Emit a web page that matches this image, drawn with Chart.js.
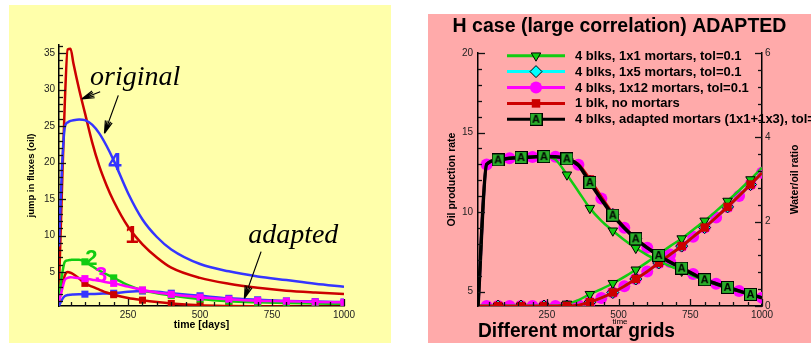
<!DOCTYPE html>
<html>
<head>
<meta charset="utf-8">
<script src="https://cdn.jsdelivr.net/npm/chart.js@4.4.1/dist/chart.umd.min.js"></script>
<style>
  html, body { margin: 0; padding: 0; background: #fff; width: 811px; height: 347px; overflow: hidden; }
  #left { position: absolute; left: 9px; top: 5px; background: #ffffaa; }
  #right { position: absolute; left: 428px; top: 14px; background: #ffaaaa; }
</style>
</head>
<body>
<canvas id="left" width="382" height="338"></canvas>
<canvas id="right" width="383" height="329"></canvas>
<script>
// left panel: jump in fluxes (oil)
var timeL = [10, 20, 30, 40, 50, 60, 80, 100, 125, 150, 175, 200, 250, 300, 350, 400, 500, 600, 700, 800, 900, 1000];
var orig1 = [3, 16, 28, 35.5, 35.6, 33.6, 30.0, 26.8, 22.8, 19.5, 16.9, 14.7, 11.2, 8.8, 7.0, 5.6, 4.2, 3.4, 2.85, 2.45, 2.2, 2.0];
var orig4 = [8.5, 19, 24.8, 25.5, 25.7, 25.8, 25.9, 25.8, 25.2, 24.0, 22.3, 20.3, 15.8, 12.2, 9.8, 8.1, 6.1, 5.1, 4.4, 3.9, 3.4, 3.0];
var adapt1 = [1.0, 2.8, 4.5, 5.0, 4.9, 4.7, 4.1, 3.45, 3.0, 2.6, 2.2, 1.9, 1.45, 1.15, 0.9, 0.7, 0.45, 0.35, 0.3, 0.27, 0.25, 0.22];
var adapt2 = [1.5, 4.5, 6.4, 6.6, 6.65, 6.7, 6.7, 6.4, 5.8, 5.2, 4.7, 4.2, 3.2, 2.5, 2.1, 1.8, 1.3, 1.0, 0.85, 0.75, 0.7, 0.65];
var adapt3 = [1.0, 2.5, 3.9, 4.2, 4.3, 4.25, 4.15, 4.1, 3.95, 3.8, 3.6, 3.45, 3.0, 2.55, 2.2, 1.95, 1.55, 1.28, 1.08, 1.0, 0.9, 0.85];
var adapt4 = [0.4, 1.2, 1.7, 1.85, 1.9, 1.92, 1.95, 1.97, 2.0, 2.03, 2.07, 2.1, 2.3, 2.4, 2.3, 2.1, 1.75, 1.4, 1.2, 1.05, 0.95, 0.9];
var xTicksL = [250, 500, 750, 1000];
var yTicksL = [5, 10, 15, 20, 25, 30, 35];

// right panel: oil production rate / water-oil ratio
var timeR = [10, 40, 80, 120, 160, 200, 240, 280, 320, 360, 400, 440, 480, 520, 560, 600, 640, 680, 720, 760, 800, 840, 880, 920, 960, 1000];
var oilGreen = [4.1, 13.0, 13.3, 13.4, 13.45, 13.48, 13.5, 13.3, 12.35, 11.3, 10.25, 9.45, 8.83, 8.25, 7.74, 7.3, 6.95, 6.6, 6.3, 6.0, 5.7, 5.45, 5.2, 5.0, 4.8, 4.6];
var oilCyan = [4.1, 13.0, 13.28, 13.38, 13.43, 13.47, 13.49, 13.48, 13.36, 12.97, 11.95, 10.85, 9.85, 9.02, 8.33, 7.76, 7.29, 6.86, 6.49, 6.11, 5.76, 5.5, 5.27, 5.05, 4.83, 4.62];
var oilMag = [4.1, 13.0, 13.28, 13.38, 13.43, 13.47, 13.49, 13.48, 13.36, 12.97, 11.95, 10.85, 9.85, 9.02, 8.33, 7.76, 7.29, 6.86, 6.49, 6.11, 5.76, 5.5, 5.27, 5.05, 4.83, 4.62];
var oilRed = [4.1, 13.0, 13.28, 13.38, 13.43, 13.47, 13.49, 13.48, 13.38, 13.0, 12.05, 10.95, 9.9, 9.05, 8.35, 7.78, 7.3, 6.87, 6.5, 6.12, 5.77, 5.5, 5.27, 5.05, 4.83, 4.62];
var oilAdapt = [4.1, 13.0, 13.28, 13.38, 13.43, 13.47, 13.49, 13.48, 13.35, 12.95, 11.86, 10.8, 9.81, 9.0, 8.32, 7.75, 7.28, 6.85, 6.48, 6.1, 5.75, 5.5, 5.27, 5.05, 4.83, 4.62];
var worGreen = [0, 0, 0, 0, 0, 0, 0, 0, 0.05, 0.14, 0.28, 0.4, 0.54, 0.69, 0.86, 1.04, 1.23, 1.42, 1.6, 1.81, 2.02, 2.25, 2.49, 2.74, 3.0, 3.28];
var worCyan = [0, 0, 0, 0, 0, 0, 0, 0, 0, 0.02, 0.09, 0.19, 0.32, 0.47, 0.64, 0.82, 1.02, 1.22, 1.42, 1.64, 1.86, 2.1, 2.35, 2.61, 2.88, 3.16];
var worMag = [0, 0, 0, 0, 0, 0, 0, 0, 0, 0.02, 0.09, 0.19, 0.32, 0.47, 0.64, 0.82, 1.02, 1.22, 1.42, 1.64, 1.86, 2.1, 2.35, 2.61, 2.88, 3.16];
var worRed = [0, 0, 0, 0, 0, 0, 0, 0, 0, 0.02, 0.09, 0.19, 0.32, 0.47, 0.64, 0.82, 1.02, 1.22, 1.42, 1.64, 1.86, 2.1, 2.35, 2.61, 2.88, 3.16];
var xTicksR = [250, 500, 750, 1000];
var yTicksR = [5, 10, 15, 20];
var y1TicksR = [0, 2, 4, 6];
var legendLabels = [
  '4 blks, 1x1 mortars, tol=0.1',
  '4 blks, 1x5 mortars, tol=0.1',
  '4 blks, 1x12 mortars, tol=0.1',
  '1 blk, no mortars',
  '4 blks, adapted mortars (1x1+1x3), tol=0.1'
];
var titleR = 'H case (large correlation) ADAPTED';

var FONT = "'Liberation Sans', Arial, sans-serif";
Chart.defaults.font.family = FONT;
Chart.defaults.color = '#000';

function pts(xs, ys) {
  return xs.map(function (t, i) { return {x: t, y: ys[i]}; });
}
function markEvery(step, r) {
  return function (c) { return c.raw && c.raw.x % step === 0 ? r : 0; };
}
function fixTicks(list) {
  return function (s) { s.ticks = list.map(function (v) { return {value: v}; }); };
}

// green box with an "A" in it
function makeA() {
  var c = document.createElement('canvas');
  c.width = 13; c.height = 13;
  var g = c.getContext('2d');
  g.fillStyle = '#2aae2a';
  g.fillRect(0.5, 0.5, 12, 12);
  g.strokeStyle = '#000';
  g.lineWidth = 1;
  g.strokeRect(0.5, 0.5, 12, 12);
  g.fillStyle = '#000';
  g.font = 'bold 11px ' + FONT;
  g.textAlign = 'center';
  g.textBaseline = 'middle';
  g.fillText('A', 6.5, 7);
  return c;
}
var markA = makeA();

// tick marks pointing into the plot, major and minor
function inTicks(cfg) {
  return {
    id: 'inTicks',
    afterDraw: function (chart) {
      var ctx = chart.ctx;
      ctx.save();
      ctx.strokeStyle = '#111';
      ctx.lineWidth = 1.3;
      Object.keys(cfg).forEach(function (id) {
        var s = chart.scales[id], o = cfg[id];
        if (!s) return;
        var pos = s.options.position;
        var k0 = Math.ceil(s.min / o.minor - 1e-6), k1 = Math.floor(s.max / o.minor + 1e-6);
        for (var k = k0; k <= k1; k++) {
          var v = k * o.minor, r = v / o.major;
          var len = Math.abs(r - Math.round(r)) < 1e-6 ? 7 : 4;
          var p = Math.round(s.getPixelForValue(v)) + 0.5;
          ctx.beginPath();
          if (pos === 'left') { ctx.moveTo(s.right, p); ctx.lineTo(s.right + len, p); }
          else if (pos === 'right') { ctx.moveTo(s.left, p); ctx.lineTo(s.left - len, p); }
          else { ctx.moveTo(p, s.top); ctx.lineTo(p, s.top - len); }
          ctx.stroke();
        }
      });
      ctx.restore();
    }
  };
}

function axisOpts(extra) {
  var o = {
    type: 'linear',
    grid: {display: false, drawTicks: false},
    border: {display: true, color: '#000', width: 1.5},
    ticks: {font: {size: 10}, color: '#222', padding: 3, callback: function (v) { return String(v); }}
  };
  for (var k in extra) o[k] = extra[k];
  return o;
}

// ---------- left chart ----------
var RED = '#cc0000', BLUE = '#3535ff', GREEN = '#11cc11', MAG = '#ff00ff';

function leftLine(data, color, order, marker) {
  return {
    data: pts(timeL, data), borderColor: color, borderWidth: 2.5,
    cubicInterpolationMode: 'monotone', order: order,
    pointStyle: 'rect', pointRadius: marker ? markEvery(100, 5) : 0,
    pointBackgroundColor: color, pointBorderWidth: 0
  };
}

// notes: positions in data units
var notesL = {
  id: 'notesL',
  afterDatasetsDraw: function (chart) {
    var ctx = chart.ctx, sx = chart.scales.x, sy = chart.scales.y;
    function X(v) { return sx.getPixelForValue(v); }
    function Y(v) { return sy.getPixelForValue(v); }
    function arrow(x1, y1, x2, y2) {
      var a = Math.atan2(Y(y2) - Y(y1), X(x2) - X(x1));
      ctx.beginPath();
      ctx.moveTo(X(x1), Y(y1));
      ctx.lineTo(X(x2), Y(y2));
      [0.28, 0.14, -0.14, -0.28].forEach(function (d) {
        ctx.moveTo(X(x2), Y(y2));
        ctx.lineTo(X(x2) - 13 * Math.cos(a + d), Y(y2) - 13 * Math.sin(a + d));
      });
      ctx.stroke();
    }
    ctx.save();
    ctx.fillStyle = '#000';
    ctx.strokeStyle = '#000';
    ctx.lineWidth = 1.2;
    ctx.font = "italic 28px 'Liberation Serif', serif";
    ctx.fillText('original', X(118), Y(30.6));
    ctx.fillText('adapted', X(667), Y(9.0));
    arrow(153, 29.7, 89, 28.7);
    arrow(216, 29.2, 168, 24.0);
    arrow(712, 7.8, 654, 1.4);
    ctx.font = 'bold 24px ' + FONT;
    ctx.fillStyle = RED; ctx.fillText('1', X(240), Y(9.0));
    ctx.fillStyle = BLUE; ctx.fillText('4', X(181), Y(19.0));
    ctx.font = 'bold 22px ' + FONT;
    ctx.fillStyle = GREEN; ctx.fillText('2', X(101), Y(6.0));
    ctx.fillStyle = MAG; ctx.fillText('3', X(135), Y(3.6));
    ctx.restore();
  }
};

new Chart(document.getElementById('left'), {
  type: 'line',
  data: {
    datasets: [
      leftLine(orig1, RED, 5, false),
      leftLine(orig4, BLUE, 4, false),
      leftLine(adapt4, BLUE, 3, true),
      leftLine(adapt1, RED, 2, true),
      leftLine(adapt2, GREEN, 1, true),
      leftLine(adapt3, MAG, 0, true)
    ]
  },
  options: {
    responsive: false, animation: false, devicePixelRatio: 1,
    layout: {padding: {left: 0, right: 47, top: 40, bottom: 4}},
    plugins: {legend: {display: false}, tooltip: {enabled: false}},
    scales: {
      x: axisOpts({
        min: 10, max: 1000, afterBuildTicks: fixTicks(xTicksL),
        afterFit: function (s) { s.height = 33; },
        title: {display: true, text: 'time [days]', font: {size: 10.5, weight: 'bold'}, padding: {top: 0, bottom: 7.5}}
      }),
      y: axisOpts({
        position: 'left', min: 0.35, max: 36.1, afterBuildTicks: fixTicks(yTicksL),
        afterFit: function (s) { s.width = 50; },
        ticks: {font: {size: 10}, color: '#222', padding: 4},
        title: {display: true, text: 'jump in fluxes (oil)', font: {size: 9.5, weight: 'bold'}, padding: {top: 17, bottom: 0}}
      })
    }
  },
  plugins: [inTicks({x: {minor: 50, major: 250}, y: {minor: 1, major: 5}}), notesL]
});

// ---------- right chart ----------
var GR = '#11cc11', CY = '#00ffff', MG = '#ff00ff', RD = '#cc0000', BK = '#000';
var styles = [
  {color: GR, fill: GR, marker: 'triangle', rot: 180, r: 5.5, bw: 1, edge: '#000'},
  {color: CY, fill: CY, marker: 'rectRot', rot: 0, r: 6, bw: 1, edge: '#000'},
  {color: MG, fill: MG, marker: 'circle', rot: 0, r: 6, bw: 0, edge: MG},
  {color: RD, fill: RD, marker: 'rect', rot: 0, r: 6, bw: 0, edge: RD},
  {color: BK, fill: BK, marker: markA, rot: 0, r: 6, bw: 0, edge: BK}
];

function rightLine(data, s, axis, order, width, step) {
  return {
    data: pts(timeR, data), yAxisID: axis, order: order,
    borderColor: s.color, borderWidth: width, cubicInterpolationMode: 'monotone',
    pointStyle: s.marker, pointRotation: s.rot,
    pointRadius: markEvery(step, s.r),
    pointBackgroundColor: s.fill, pointBorderColor: s.edge, pointBorderWidth: s.bw
  };
}

var legendR = {
  id: 'legendR',
  afterDatasetsDraw: function (chart) {
    var ctx = chart.ctx, a = chart.chartArea;
    ctx.save();
    legendLabels.forEach(function (txt, i) {
      var s = styles[i], y = a.top + 2.7 + i * 15.9;
      ctx.strokeStyle = s.color;
      ctx.lineWidth = 3;
      ctx.beginPath();
      ctx.moveTo(a.left + 29, y);
      ctx.lineTo(a.left + 87, y);
      ctx.stroke();
      ctx.fillStyle = s.fill;
      ctx.strokeStyle = s.edge;
      ctx.lineWidth = s.bw;
      Chart.helpers.drawPoint(ctx, {pointStyle: s.marker, rotation: s.rot, radius: s.r, borderWidth: s.bw}, a.left + 58, y);
      ctx.fillStyle = '#000';
      ctx.font = 'bold 13px ' + FONT;
      ctx.textBaseline = 'middle';
      ctx.fillText(txt, a.left + 97, y + 0.5);
    });
    ctx.restore();
  }
};

var notesR = {
  id: 'notesR',
  afterDraw: function (chart) {
    var ctx = chart.ctx, a = chart.chartArea;
    ctx.save();
    ctx.fillStyle = '#000';
    ctx.font = 'bold 10.5px ' + FONT;
    ctx.textAlign = 'center';
    ctx.textBaseline = 'middle';
    ctx.translate(367, (a.top + a.bottom) / 2);
    ctx.rotate(-Math.PI / 2);
    ctx.fillText('Water/oil ratio', 0, 0);
    ctx.restore();
    ctx.save();
    ctx.fillStyle = '#000';
    ctx.font = 'bold 20px ' + FONT;
    ctx.textBaseline = 'alphabetic';
    ctx.fillText('Different mortar grids', a.left, 322.7, 197);
    ctx.restore();
  }
};

new Chart(document.getElementById('right'), {
  type: 'line',
  data: {
    datasets: [
      rightLine(oilGreen, styles[0], 'y', 2, 2.5, 80),
      rightLine(oilCyan, styles[1], 'y', 3, 3, 80),
      rightLine(oilMag, styles[2], 'y', 4, 3, 40),
      rightLine(oilRed, styles[3], 'y', 1, 3, 80),
      rightLine(oilAdapt, styles[4], 'y', 0, 3.5, 80),
      rightLine(worGreen, styles[0], 'y1', 2, 2.5, 80),
      rightLine(worCyan, styles[1], 'y1', 3, 3, 80),
      rightLine(worMag, styles[2], 'y1', 4, 3, 40),
      rightLine(worRed, styles[3], 'y1', 1, 3, 80)
    ]
  },
  options: {
    responsive: false, animation: false, devicePixelRatio: 1,
    layout: {padding: {left: 0, right: 0, top: 0, bottom: 0}},
    plugins: {
      legend: {display: false}, tooltip: {enabled: false},
      title: {display: true, text: titleR, color: '#000', font: {size: 19.5, weight: 'bold'}, padding: {top: 1, bottom: 14.6}}
    },
    scales: {
      x: axisOpts({
        min: 10, max: 1000, afterBuildTicks: fixTicks(xTicksR),
        afterFit: function (s) { s.height = 37; },
        title: {display: true, text: 'time', font: {size: 8}, padding: {top: 0, bottom: 16}}
      }),
      y: axisOpts({
        position: 'left', min: 4.1, max: 20, afterBuildTicks: fixTicks(yTicksR),
        afterFit: function (s) { s.width = 50; },
        ticks: {font: {size: 10}, color: '#222', padding: 5},
        title: {display: true, text: 'Oil production rate', font: {size: 10.5, weight: 'bold'}, padding: {top: 17.7, bottom: 0}}
      }),
      y1: axisOpts({
        position: 'right', min: 0, max: 6, afterBuildTicks: fixTicks(y1TicksR),
        afterFit: function (s) { s.width = 49; }
      })
    }
  },
  plugins: [inTicks({x: {minor: 50, major: 250}, y: {minor: 1, major: 5}, y1: {minor: 0.4, major: 2}}), legendR, notesR]
});
</script>
</body>
</html>
